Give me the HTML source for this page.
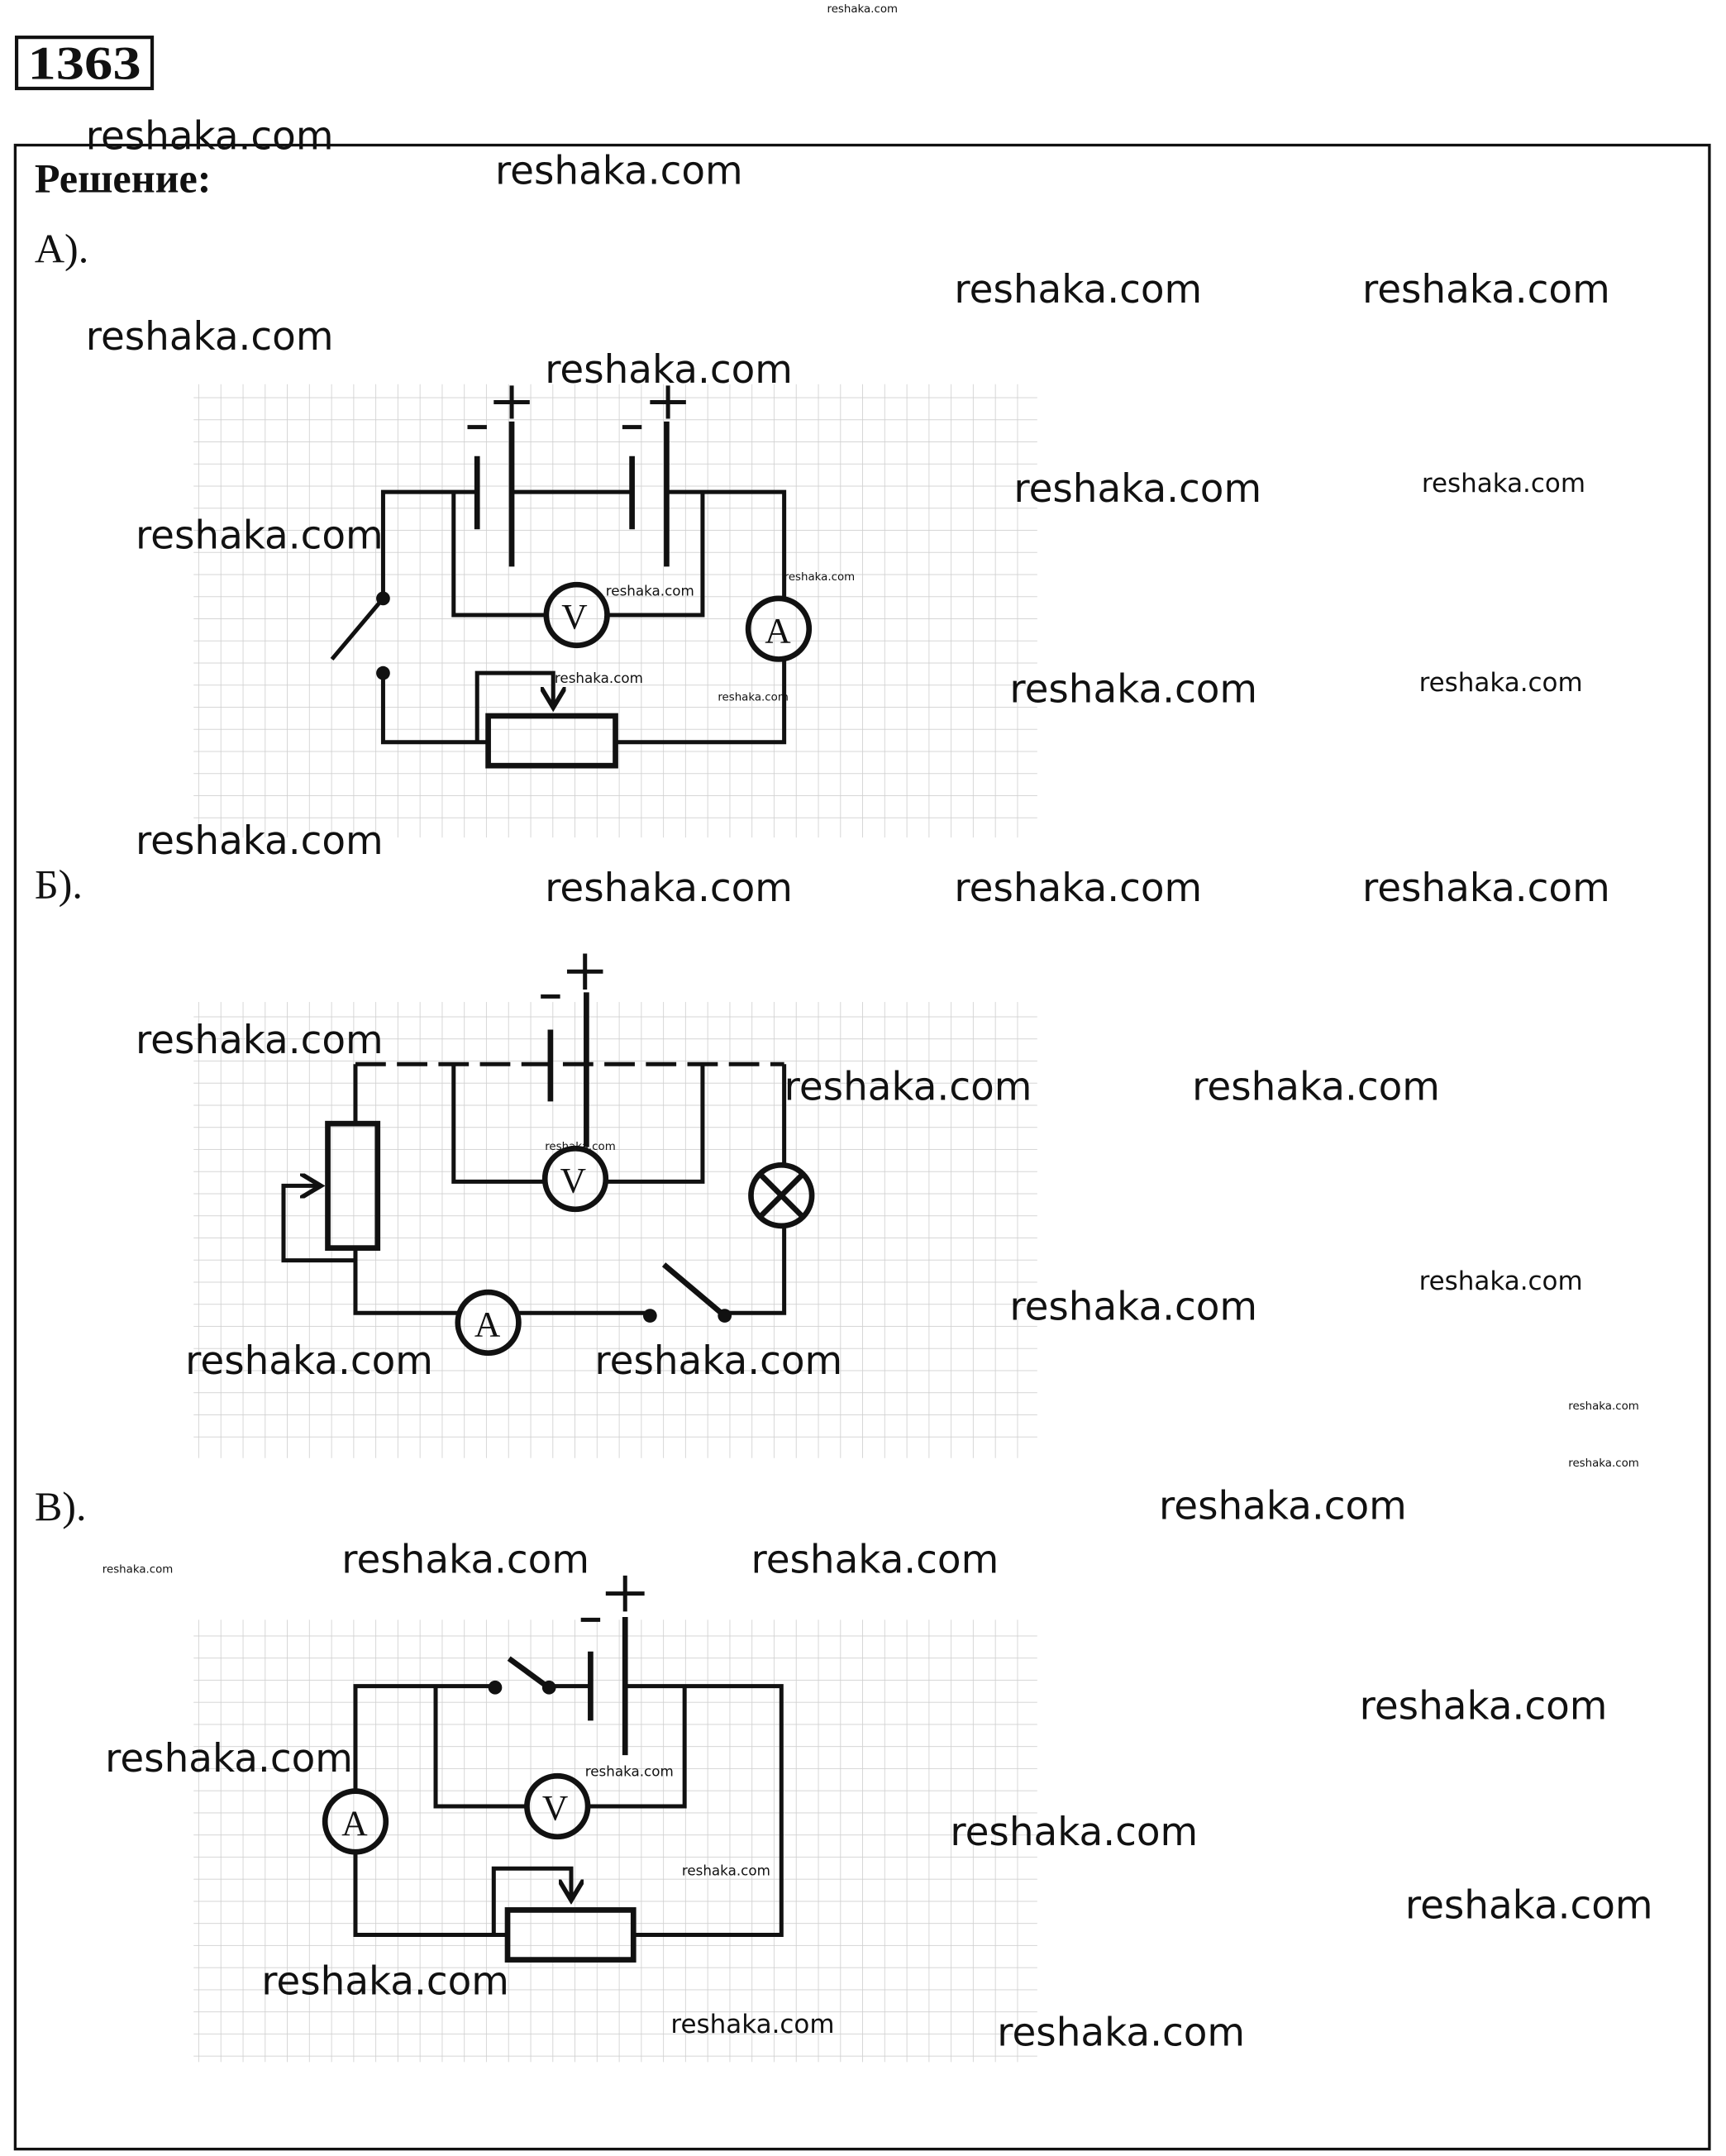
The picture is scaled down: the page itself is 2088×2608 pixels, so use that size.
<!DOCTYPE html>
<html><head><meta charset="utf-8"><style>
html,body{margin:0;padding:0;background:#fff;}
svg{display:block;}
.wm{font-family:"DejaVu Sans","Liberation Sans",sans-serif;font-size:28px;fill:#111;}
.ws{font-family:"DejaVu Sans","Liberation Sans",sans-serif;font-size:18.5px;fill:#111;}
.wt{font-family:"DejaVu Sans","Liberation Sans",sans-serif;font-size:10px;fill:#111;}
.wt2{font-family:"DejaVu Sans","Liberation Sans",sans-serif;font-size:8px;fill:#111;}
.lb{font-family:"Liberation Serif",serif;font-size:30px;fill:#111;}
.w{stroke:#111;stroke-width:3;fill:none;}
.p{stroke:#111;stroke-width:4;fill:none;}
.mt{font-family:"Liberation Serif",serif;font-size:26px;fill:#111;}
</style></head><body>
<svg width="2088" height="2608" viewBox="0 0 1248 1560" preserveAspectRatio="none" xmlns="http://www.w3.org/2000/svg">
<defs>
<pattern id="g" width="16" height="16" patternUnits="userSpaceOnUse">
<path d="M16 0V16M0 16H16" stroke="#d0d0d0" stroke-width="1" fill="none"/>
</pattern>
<marker id="ar" markerWidth="6" markerHeight="6" refX="5" refY="3" orient="auto" markerUnits="strokeWidth"><path d="M0,0 L5,3 L0,6" fill="none" stroke="#111" stroke-width="1.1"/></marker>
</defs>
<rect width="1248" height="1560" fill="#fff"/>
<text x="598" y="9" class="wt2" fill="#55f">reshaka.com</text>
<rect x="12" y="27" width="98" height="37" fill="none" stroke="#111" stroke-width="2.5"/>
<text x="20" y="57" textLength="82" lengthAdjust="spacingAndGlyphs" style="font-family:'Liberation Serif',serif;font-size:34px;font-weight:bold" fill="#111">1363</text>
<rect x="11" y="105" width="1225" height="1450" fill="none" stroke="#111" stroke-width="2"/>
<text x="25" y="139" style="font-family:'Liberation Serif',serif;font-size:30px;font-weight:bold" fill="#111">Решение:</text>
<text x="25" y="190" class="lb">А).</text>
<text x="25" y="650" class="lb">Б).</text>
<text x="25" y="1100" class="lb">В).</text>

<rect x="140" y="278" width="610" height="328" fill="url(#g)"/>
<rect x="140" y="725" width="610" height="330" fill="url(#g)"/>
<rect x="140" y="1172" width="610" height="320" fill="url(#g)"/>

<g>
<path class="w" d="M277 433V356H345M370 356H457M482 356H567V433M567 477V537H445M353 537H277V487"/>
<path class="p" d="M345 330V383M457 330V383"/>
<path class="p" d="M370 305V410M482 305V410"/>
<path class="w" d="M328 356V445H395M439 445H508V356"/>
<circle cx="417" cy="445" r="22" class="p" fill="#fff"/><text x="406" y="455" class="mt">V</text>
<circle cx="563" cy="455" r="22" class="p" fill="#fff"/><text x="553" y="465" class="mt">A</text>
<rect x="353" y="518" width="92" height="36" class="p"/>
<path class="w" d="M345 537V487H400V512" marker-end="url(#ar)"/>
<path class="w" d="M277 433L240 477"/>
<circle cx="277" cy="433" r="5" fill="#111"/><circle cx="277" cy="487" r="5" fill="#111"/>
<path class="w" d="M338 309H352M450 309H464M357 291H383M370 279V303M470 291H496M483 279V303"/>
</g>

<g>
<path class="w" stroke-dasharray="22,8" d="M257 770H567"/>
<path class="w" d="M257 770V813M257 903V950H331M375 950H470M524 950H567V887M567 843V770"/>
<path class="p" d="M398 745V797"/><path class="p" d="M424 718V830"/>
<path class="w" d="M328 770V855H394M438 855H508V770"/>
<circle cx="416" cy="853" r="22" class="p" fill="#fff"/><text x="405" y="863" class="mt">V</text>
<circle cx="353" cy="957" r="22" class="p" fill="#fff"/><text x="343" y="967" class="mt">A</text>
<circle cx="565" cy="865" r="22" class="p" fill="#fff"/><path class="p" d="M550 850L580 880M580 850L550 880"/>
<rect x="237" y="813" width="36" height="90" class="p" fill="#fff"/>
<path class="w" d="M257 912H205V858H232" marker-end="url(#ar)"/>
<path class="p" d="M480 915L525 953"/>
<circle cx="470" cy="952" r="5" fill="#111"/><circle cx="524" cy="952" r="5" fill="#111"/>
<path class="w" d="M391 721H405M410 703H436M423 690V716"/>
</g>

<g>
<path class="w" d="M257 1296V1220H358M397 1220H427M452 1220H565V1400H458M367 1400H257V1340"/>
<path class="p" d="M427 1195V1245"/><path class="p" d="M452 1170V1270"/>
<path class="p" d="M368 1200L398 1222"/>
<circle cx="358" cy="1221" r="5" fill="#111"/><circle cx="397" cy="1221" r="5" fill="#111"/>
<path class="w" d="M315 1220V1307H381M425 1307H495V1220"/>
<circle cx="403" cy="1307" r="22" class="p" fill="#fff"/><text x="392" y="1317" class="mt">V</text>
<circle cx="257" cy="1318" r="22" class="p" fill="#fff"/><text x="247" y="1328" class="mt">A</text>
<rect x="367" y="1382" width="91" height="36" class="p" fill="#fff"/>
<path class="w" d="M357 1400V1352H413V1375" marker-end="url(#ar)"/>
<path class="w" d="M420 1172H434M438 1153H466M452 1140V1166"/>
</g>

<text x="62" y="108" class="wm">reshaka.com</text>
<text x="358" y="133" class="wm">reshaka.com</text>
<text x="690" y="219" class="wm">reshaka.com</text>
<text x="985" y="219" class="wm">reshaka.com</text>
<text x="62" y="253" class="wm">reshaka.com</text>
<text x="394" y="277" class="wm">reshaka.com</text>
<text x="733" y="363" class="wm">reshaka.com</text>
<text x="1028" y="356" class="ws">reshaka.com</text>
<text x="98" y="397" class="wm">reshaka.com</text>
<text x="438" y="431" class="wt">reshaka.com</text>
<text x="567" y="420" class="wt2">reshaka.com</text>
<text x="401" y="494" class="wt">reshaka.com</text>
<text x="519" y="507" class="wt2">reshaka.com</text>
<text x="730" y="508" class="wm">reshaka.com</text>
<text x="1026" y="500" class="ws">reshaka.com</text>
<text x="98" y="618" class="wm">reshaka.com</text>
<text x="394" y="652" class="wm">reshaka.com</text>
<text x="690" y="652" class="wm">reshaka.com</text>
<text x="985" y="652" class="wm">reshaka.com</text>
<text x="98" y="762" class="wm">reshaka.com</text>
<text x="567" y="796" class="wm">reshaka.com</text>
<text x="862" y="796" class="wm">reshaka.com</text>
<text x="394" y="832" class="wt2">reshaka.com</text>
<text x="1026" y="933" class="ws">reshaka.com</text>
<text x="730" y="955" class="wm">reshaka.com</text>
<text x="134" y="994" class="wm">reshaka.com</text>
<text x="430" y="994" class="wm">reshaka.com</text>
<text x="1134" y="1020" class="wt2">reshaka.com</text>
<text x="1134" y="1061" class="wt2">reshaka.com</text>
<text x="838" y="1099" class="wm">reshaka.com</text>
<text x="74" y="1138" class="wt2">reshaka.com</text>
<text x="247" y="1138" class="wm">reshaka.com</text>
<text x="543" y="1138" class="wm">reshaka.com</text>
<text x="983" y="1244" class="wm">reshaka.com</text>
<text x="76" y="1282" class="wm">reshaka.com</text>
<text x="423" y="1285" class="wt">reshaka.com</text>
<text x="687" y="1335" class="wm">reshaka.com</text>
<text x="493" y="1357" class="wt">reshaka.com</text>
<text x="1016" y="1388" class="wm">reshaka.com</text>
<text x="189" y="1443" class="wm">reshaka.com</text>
<text x="485" y="1471" class="ws">reshaka.com</text>
<text x="721" y="1480" class="wm">reshaka.com</text>
</svg>
</body></html>
